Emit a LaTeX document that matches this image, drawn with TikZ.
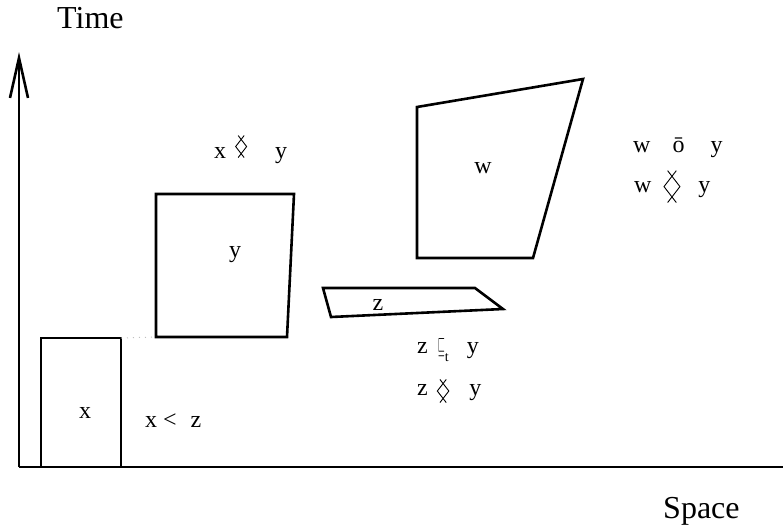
\documentclass[tikz,border=0pt]{standalone}
\usepackage{fontspec}
\usepackage{graphicx}
\setmainfont{Liberation Serif}
\usetikzlibrary{arrows.meta}

% crossed diamond relation sign, drawn inline
\newcommand{\crossdia}[2][0pt]{\raisebox{#1}{\tikz[x=1pt,y=1pt,scale=#2,line width=0.9pt]{%
  \draw (-3,22) -- (5.5,11) -- (-3,0);
  \draw (3,22) -- (-5.5,11) -- (3,0);}}}
% part-of relation with subscript t
\newcommand{\partt}{\resizebox{7pt}{15pt}{$\sqsubseteq$}\raisebox{-8pt}{\fontsize{14}{14}\selectfont t}}

\begin{document}
\begin{tikzpicture}[x=1pt, y=-1pt,
        outline/.style={line width=2.6pt, line join=miter},
        label/.style={font=\fontsize{24}{28}\selectfont, inner sep=0pt},
        axislabel/.style={font=\fontsize{32}{36}\selectfont, inner sep=0pt, anchor=base west},
        relation/.style={label, anchor=base west},
        guide/.style={gray!50, line width=1pt, dash pattern=on 1pt off 5pt}
    ]
    \useasboundingbox (0,0) rectangle (783,531);

    % Axes
    \coordinate (origin) at (19,467);
    \coordinate (tend) at (19,52);
    \coordinate (send) at (783,467);
    \draw[outline] (origin) -- (send);
    \draw[outline, -{Straight Barb[length=40pt,width=18pt]}] (origin) -- (tend);
    \node[axislabel] (time) at (57,28) {Time};
    \node[axislabel] (space) at (663,518) {Space};

    % Regions
    \draw[outline] (41,338) coordinate (x-tl) rectangle (121,467);
    \coordinate (x-tr) at (121,338);
    \draw[outline] (156,194) -- (294,194) -- (287,337) -- (156,337) coordinate (y-bl) -- cycle;
    \draw[outline] (417,107) -- (583,79) -- (533,258) -- (417,258) -- cycle;
    \draw[outline] (323,288) -- (475,288) -- (503,309) -- (331,317) -- cycle;
    \draw[guide] (x-tr) -- (y-bl);

    \node[label] (x) at (85,413) {x};
    \node[label] (y) at (235,255) {y};
    \node[label] (w) at (483,168) {w};
    \node[label] (z) at (378,305) {z};

    % Relations
    \node[relation] (xy) at (214,158) {x\hspace{9pt}\crossdia{1}\hspace{28pt}y};
    \node[relation] (wy1) at (633,152.5) {w\hspace{22pt}ō\hspace{26pt}y};
    \node[relation] (wy2) at (634,192.5) {w\hspace{12pt}\crossdia[-10.5pt]{1.45}\hspace{18pt}y};
    \node[relation] (zy1) at (417,353.5) {z\hspace{10pt}\partt\hspace{18pt}y};
    \node[relation] (zy2) at (417,395.5) {z\hspace{9pt}\crossdia[-7.5pt]{1.05}\hspace{20pt}y};
    \node[relation] (xz) at (145,427.5) {x\hspace{6pt}<\hspace{14pt}z};

\end{tikzpicture}
\end{document}
